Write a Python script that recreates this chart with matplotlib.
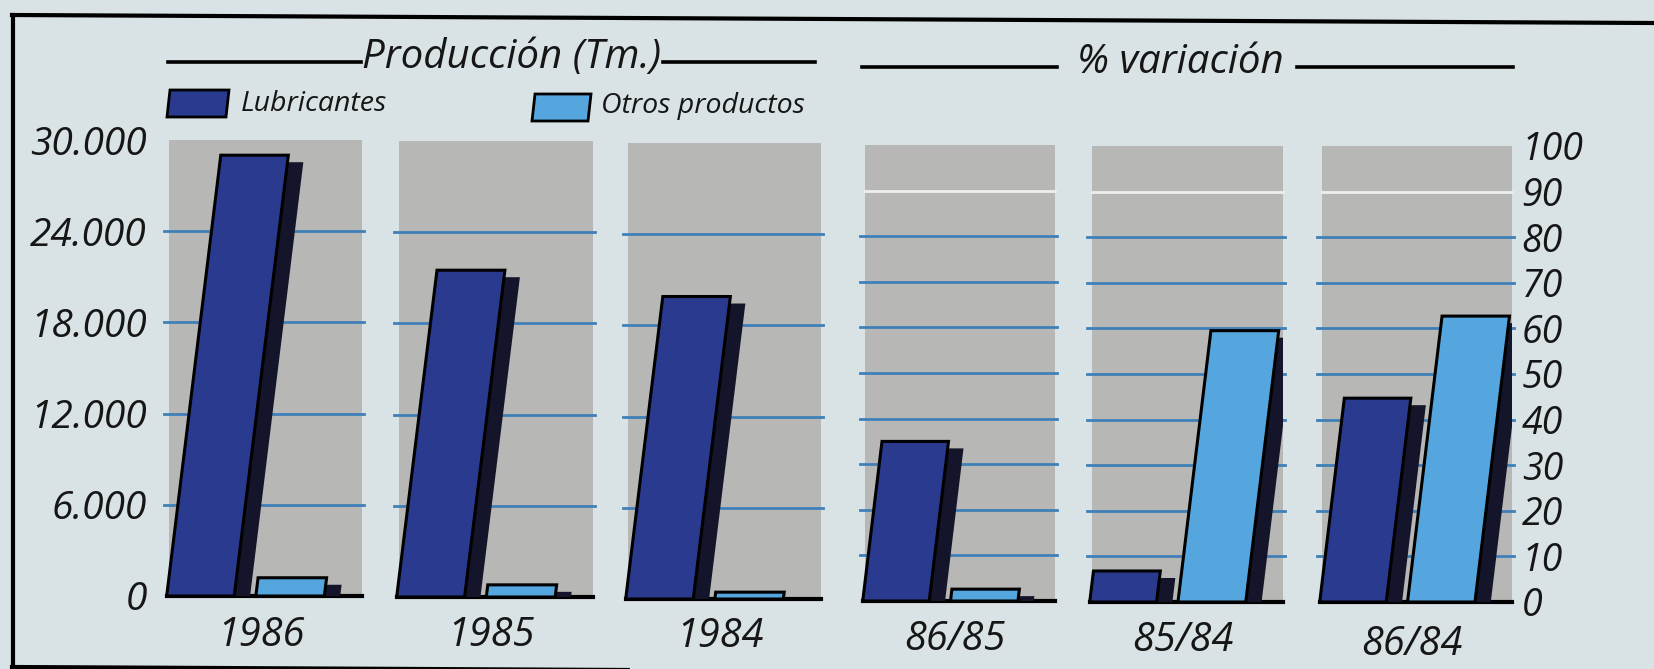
import numpy as np
import matplotlib
matplotlib.use("Agg")
import matplotlib.pyplot as plt
from matplotlib.transforms import Affine2D, ScaledTranslation
from matplotlib.patches import Polygon
from matplotlib.lines import Line2D

# ---------------- data ----------------
years = ["1986", "1985", "1984"]
lub_tm = [29000, 21500, 19900]
otros_tm = [1200, 800, 450]

var_labels = ["86/85", "85/84", "86/84"]
lub_var = [35, 6.8, 44.7]
otros_var = [2.6, 59.5, 62.7]

left_ticks = [0, 6000, 12000, 18000, 24000, 30000]
left_tick_labels = ["0", "6.000", "12.000", "18.000", "24.000", "30.000"]
right_ticks = list(range(0, 101, 10))
right_tick_labels = [str(t) for t in right_ticks]

# ---------------- style ----------------
W, H = 1654, 669
BG = "#d9e2e5"
PANEL = "#b7b7b5"
DARK = "#2a3a8e"
LIGHT = "#55a6de"
SHADOW = "#14142a"
GRID = "#3f80b8"
FONT = "Open Sans"
TXT = "#161616"

plt.rcParams["font.family"] = [FONT, "DejaVu Sans"]

fig = plt.figure(figsize=(W / 100, H / 100), dpi=100, facecolor=BG)


def fx(x):
    return x / W


def fy(y):
    return 1 - y / H


# panel geometry (pixels)
panel_left = [169, 399, 628, 865, 1092, 1322]
panel_width = [193, 194, 193, 190, 191, 190]
panel_bottom = [596, 597, 599, 601, 602, 602]
panel_height = 456

SHEAR = 0.29          # horizontal lean of a full-height bar, in panel widths
LUB_X, LUB_W = -0.012, 0.35
OTR_X, OTR_W = 0.45, 0.355


def draw_panel(i, lub, otr, ymax, grid_vals, white_vals):
    ax = fig.add_axes([fx(panel_left[i]), fy(panel_bottom[i]),
                       panel_width[i] / W, panel_height / H])
    ax.set_facecolor(PANEL)
    ax.set_xlim(0, 1)
    ax.set_ylim(0, ymax)
    for sp in ax.spines.values():
        sp.set_visible(False)
    ax.set_xticks([])
    ax.set_yticks([])
    ytr = ax.get_yaxis_transform()
    for g in grid_vals:
        ax.plot([-0.025, 1.01], [g, g], color=GRID, lw=2.0, transform=ytr,
                clip_on=False, zorder=1)
    for g in white_vals:
        ax.plot([0, 1], [g, g], color="#eeeeee", lw=2.0, transform=ytr,
                clip_on=False, zorder=1)
    ax.plot([-0.01, 1.0], [0, 0], color="black", lw=3, transform=ytr,
            clip_on=False, zorder=2)
    s = SHEAR / ymax
    skew = Affine2D().skew(np.arctan(s), 0)
    off = ScaledTranslation(15 / 100, -7 / 100, fig.dpi_scale_trans)
    for x0, w, v, c in [(LUB_X, LUB_W, lub, DARK), (OTR_X, OTR_W, otr, LIGHT)]:
        sh = ax.bar(x0, v, w, align="edge", color=SHADOW, lw=0, zorder=3)[0]
        sh.set_transform(skew + ax.transData + off)
        b = ax.bar(x0, v, w, align="edge", color=c, edgecolor="black",
                   lw=2.2, zorder=4)[0]
        b.set_transform(skew + ax.transData)
        b.set_clip_on(False)
    return ax


axes = []
for k in range(3):
    axes.append(draw_panel(k, lub_tm[k], otros_tm[k], 30000,
                           left_ticks[1:-1], []))
for k in range(3):
    axes.append(draw_panel(3 + k, lub_var[k], otros_var[k], 100,
                           right_ticks[1:-2], [90]))

# y tick labels
ax0 = axes[0]
ax0.set_yticks(left_ticks)
ax0.set_yticklabels(left_tick_labels, fontsize=28, style="italic", color=TXT)
ax0.tick_params(axis="y", length=0, pad=16)

ax5 = axes[5]
ax5.yaxis.tick_right()
ax5.set_yticks(right_ticks)
ax5.set_yticklabels(right_tick_labels, fontsize=27, style="italic", color=TXT)
ax5.tick_params(axis="y", length=0, pad=7)

# x category labels
labels = years + var_labels
label_y = [636, 636, 637, 640, 641, 645]
for k, lab in enumerate(labels):
    cx = panel_left[k] + panel_width[k] / 2 - 5
    fig.text(fx(cx), fy(label_y[k]), lab, ha="center", va="center",
             fontsize=28.5, style="italic", color=TXT)

# section titles with rules
def rule(x1, x2, y1, y2, lw=2.6):
    fig.add_artist(Line2D([fx(x1), fx(x2)], [fy(y1), fy(y2)], color="black",
                          lw=lw, transform=fig.transFigure))


fig.text(fx(512), fy(58), "Producción (Tm.)", ha="center", va="center",
         fontsize=29, style="italic", color=TXT)
rule(168, 361, 62, 62)
rule(663, 815, 62, 62)

fig.text(fx(1180), fy(63), "% variación", ha="center", va="center",
         fontsize=29, style="italic", color=TXT)
rule(862, 1057, 67, 67)
rule(1297, 1513, 67, 67)

# legend
def legend_patch(x1, x2, y1, y2, color):
    lean = 3
    pts = [(fx(x1), fy(y2)), (fx(x2), fy(y2)), (fx(x2 + lean), fy(y1)),
           (fx(x1 + lean), fy(y1))]
    fig.add_artist(Polygon(pts, closed=True, facecolor=color,
                           edgecolor="black", lw=2, transform=fig.transFigure))


legend_patch(167, 226, 90, 117, DARK)
fig.text(fx(241), fy(104), "Lubricantes", ha="left", va="center",
         fontsize=20.5, style="italic", color=TXT)
legend_patch(532, 588, 94, 121, LIGHT)
fig.text(fx(601), fy(106), "Otros productos", ha="left", va="center",
         fontsize=20.5, style="italic", color=TXT)

# outer frame
rule(12, 1654, 15, 23, 3)
rule(13, 13, 15, 667, 3)
rule(12, 1654, 667, 675, 3)

fig.savefig("out.png", dpi=100, facecolor=BG)
